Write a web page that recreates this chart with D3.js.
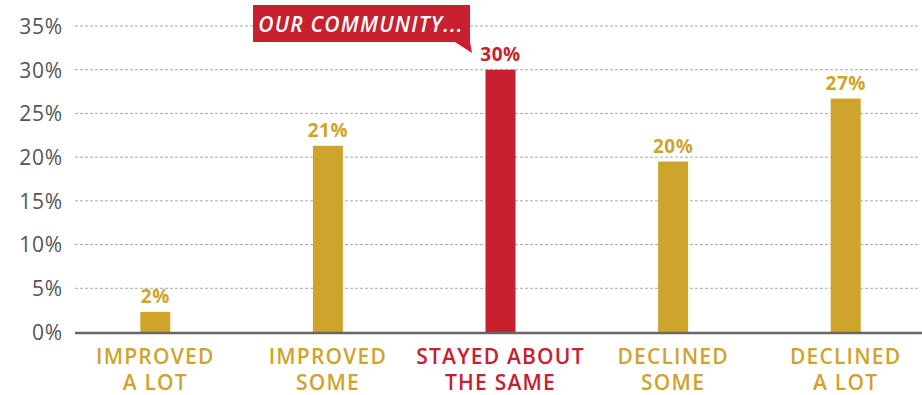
<!DOCTYPE html>
<html><head><meta charset="utf-8">
<script src="https://cdn.jsdelivr.net/npm/d3@7"></script>
<style>body{margin:0;background:#fff}svg{display:block}</style>
</head><body>
<svg id="c" width="922" height="395"></svg>
<script>
const categories = ["IMPROVED|A LOT","IMPROVED|SOME","STAYED ABOUT|THE SAME","DECLINED|SOME","DECLINED|A LOT"];
const values = [2.3, 21.3, 30, 19.5, 26.7];
const valueLabels = ["2%","21%","30%","20%","27%"];
const highlight = [false,false,true,false,false];
const yTicks = [0,5,10,15,20,25,30,35];
const calloutText = "OUR COMMUNITY...";

const GOLD = "#CFA42D", RED = "#C8202F";
const FONT = "'Open Sans', Lato, sans-serif";
const svg = d3.select("#c");
const y = d3.scaleLinear().domain([0,35]).range([332,26]);
const x = d3.scaleBand().domain(categories).range([69,932]);
const barW = 30;

// grid
svg.append("g").selectAll("line").data(yTicks.filter(d=>d>0)).join("line")
  .attr("x1",75).attr("x2",918).attr("y1",d=>y(d)).attr("y2",d=>y(d))
  .attr("stroke","#a8a8a8").attr("stroke-width",1).attr("stroke-dasharray","3,2");

// y axis labels
const yAxis = d3.axisLeft(y).tickValues(yTicks).tickFormat(d=>d+"%").tickSize(0).tickPadding(0);
const ya = svg.append("g").attr("transform","translate(63,0)").call(yAxis);
ya.select(".domain").remove();
ya.selectAll("text").attr("font-family",FONT).attr("font-size",21).attr("font-weight",400)
  .attr("letter-spacing","0.8px").attr("fill","#555").attr("dy","0.35em");

// bars
svg.append("g").selectAll("rect").data(values).join("rect")
  .attr("x",(d,i)=>x(categories[i])+x.bandwidth()/2-barW/2)
  .attr("width",barW)
  .attr("y",d=>y(d)).attr("height",d=>y(0)-y(d))
  .attr("fill",(d,i)=>highlight[i]?RED:GOLD);

// baseline
svg.append("line").attr("x1",75).attr("x2",922).attr("y1",y(0)+1).attr("y2",y(0)+1)
  .attr("stroke","#666").attr("stroke-width",2.5);

// value labels
svg.append("g").selectAll("text").data(values).join("text")
  .attr("x",(d,i)=>x(categories[i])+x.bandwidth()/2)
  .attr("y",d=>y(d)-9)
  .attr("text-anchor","middle").attr("font-family",FONT).attr("font-weight",700)
  .attr("font-size",19).attr("letter-spacing","0.5px").attr("fill",(d,i)=>highlight[i]?RED:GOLD)
  .text((d,i)=>valueLabels[i]);

// category labels
const cl = svg.append("g").selectAll("text").data(categories).join("text")
  .attr("x",d=>x(d)+x.bandwidth()/2).attr("y",364)
  .attr("text-anchor","middle").attr("font-family",FONT).attr("font-weight",600)
  .attr("font-size",21).attr("letter-spacing","1.2px").attr("fill",(d,i)=>highlight[i]?RED:GOLD);
cl.each(function(d){
  const parts = d.split("|");
  d3.select(this).selectAll("tspan").data(parts).join("tspan")
    .attr("x",x(d)+x.bandwidth()/2).attr("dy",(p,j)=>j?26:0).text(p=>p);
});

// callout
svg.append("path")
  .attr("d",`M253,5 H470 V42 L472,53 L455,42 H253 Z`)
  .attr("fill",RED);
svg.append("text").attr("x",361).attr("y",32).attr("text-anchor","middle")
  .attr("font-family",FONT).attr("font-style","italic").attr("font-weight",600)
  .attr("font-size",21).attr("letter-spacing","1.2px").attr("fill","#fff").text(calloutText);
</script>
</body></html>
